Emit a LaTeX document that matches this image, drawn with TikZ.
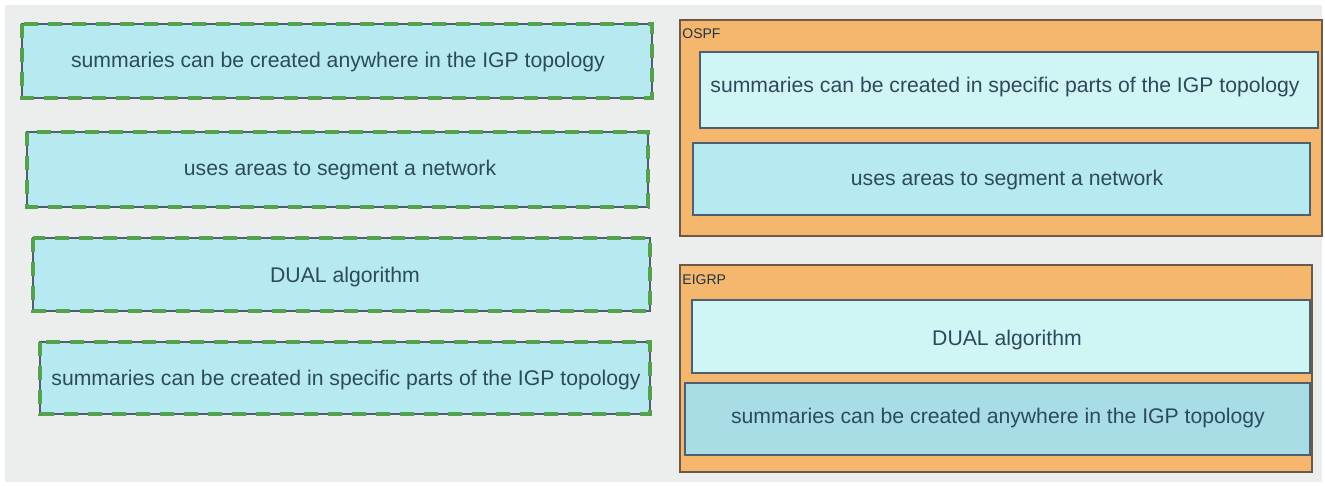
\documentclass[tikz,border=0pt]{standalone}
\usepackage{fontspec}
\setmainfont{Liberation Sans}
\definecolor{bg}{HTML}{ECEEED}
\definecolor{cy}{HTML}{B6EAF0}
\definecolor{cylight}{HTML}{CFF5F5}
\definecolor{cydark}{HTML}{A8DDE6}
\definecolor{grn}{HTML}{55A24E}
\definecolor{edge}{HTML}{4E6070}
\definecolor{org}{HTML}{F5B66E}
\definecolor{orgedge}{HTML}{6B5A48}
\definecolor{txt}{HTML}{2C4A5C}
\tikzset{
  choice/.style={draw=edge, line width=1pt, fill=cy},
  dashedge/.style={draw=grn, line width=2pt, dash pattern=on 7pt off 5pt},
  container/.style={draw=orgedge, line width=1pt, fill=org},
  answer/.style={draw=edge, line width=1pt},
  lbl/.style={text=txt, font=\fontsize{10.6}{12}\selectfont, inner sep=0pt},
  tag/.style={text=txt!70!black, font=\fontsize{7}{8}\selectfont, anchor=north west, inner sep=0pt}
}
\begin{document}
\begin{tikzpicture}[x=0.5pt,y=-0.5pt]
\fill[white] (0,0) rectangle (1325,486);
\fill[bg] (5,5) rectangle (1322,482);
\useasboundingbox (0,0) rectangle (1325,486);

% left choices
\path[choice] (22,24) rectangle (652,98);
\path[dashedge] (22,24) rectangle (652,98);
\node[lbl] (c1) at (338,62) {summaries can be created anywhere in the IGP topology};

\path[choice] (27,132) rectangle (648,207);
\path[dashedge] (27,132) rectangle (648,207);
\node[lbl] (c2) at (340,170) {uses areas to segment a network};

\path[choice] (33,238) rectangle (650,311);
\path[dashedge] (33,238) rectangle (650,311);
\node[lbl] (c3) at (345,277) {DUAL algorithm};

\path[choice] (40,342) rectangle (650,414);
\path[dashedge] (40,342) rectangle (650,414);
\node[lbl] (c4) at (346,380) {summaries can be created in specific parts of the IGP topology};

% OSPF container
\path[container] (680,20) rectangle (1322,236);
\node[tag] (ospf) at (682,28) {OSPF};
\path[answer, fill=cylight] (700,52) rectangle (1318,128);
\node[lbl] (o1) at (1005,87) {summaries can be created in specific parts of the IGP topology};
\path[answer, fill=cy] (693,143) rectangle (1310,215);
\node[lbl] (o2) at (1007,180) {uses areas to segment a network};

% EIGRP container
\path[container] (680,265) rectangle (1312,472);
\node[tag] (eigrp) at (682,274) {EIGRP};
\path[answer, fill=cylight] (692,300) rectangle (1310,373);
\node[lbl] (e1) at (1007,340) {DUAL algorithm};
\path[answer, fill=cydark] (685,383) rectangle (1310,455);
\node[lbl] (e2) at (998,418) {summaries can be created anywhere in the IGP topology};
\end{tikzpicture}
\end{document}
